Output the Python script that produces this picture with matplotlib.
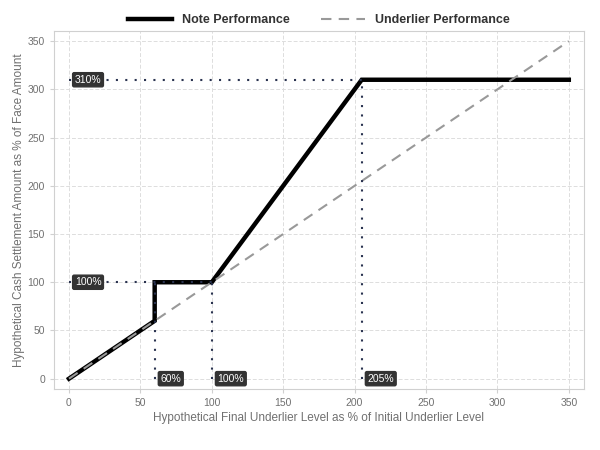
import matplotlib.pyplot as plt

plt.rcParams["font.family"] = ["Liberation Sans", "DejaVu Sans"]

underlier_x = [0, 350]
underlier_y = [0, 350]
note_x = [0, 60, 60, 100, 205, 350]
note_y = [0, 60, 100, 100, 310, 310]

# reference guides: (x, y) points marked with labels
h_guides = [(205, 310, "310%"), (100, 100, "100%")]
v_guides = [(60, 100, "60%"), (100, 100, "100%"), (205, 310, "205%")]

ticks = [0, 50, 100, 150, 200, 250, 300, 350]

fig = plt.figure(figsize=(6, 4.5), dpi=100)
ax = fig.add_axes([0.09, 0.136, 0.883, 0.795])

guide_col = "#2a3350"
box = dict(boxstyle="round,pad=0.2,rounding_size=0.15", fc="#333333", ec="#333333")
for x, y, lab in h_guides:
    ax.plot([0, x], [y, y], color=guide_col, linestyle=(0, (1, 3.5)), linewidth=1.5, zorder=5)
    ax.text(4, y, lab, color="white", fontsize=7.5, ha="left", va="center", zorder=6, bbox=box)
for x, y, lab in v_guides:
    ax.plot([x, x], [0, y], color=guide_col, linestyle=(0, (1, 3.5)), linewidth=1.5, zorder=5)
    ax.text(x + 4, 0, lab, color="white", fontsize=7.5, ha="left", va="center", zorder=6, bbox=box)

ax.plot(note_x, note_y, color="black", linewidth=3.2, solid_joinstyle="miter",
        label="Note Performance", zorder=3)
ax.plot(underlier_x, underlier_y, color="#999999", linewidth=1.5, linestyle=(0, (5, 3.5)),
        label="Underlier Performance", zorder=4)

ax.set_xlim(-10.5, 360.5)
ax.set_ylim(-10.5, 360.5)
ax.set_xticks(ticks)
ax.set_yticks(ticks)
ax.grid(True, color="#dddddd", linestyle=(0, (4, 2)), linewidth=0.7)
ax.set_axisbelow(True)
for s in ax.spines.values():
    s.set_color("#d0d0d0")
    s.set_linewidth(0.8)
ax.tick_params(colors="#d0d0d0", labelcolor="#707070", labelsize=7.5, length=3)
ax.set_xlabel("Hypothetical Final Underlier Level as % of Initial Underlier Level",
              fontsize=8.5, color="#707070", labelpad=3)
ax.set_ylabel("Hypothetical Cash Settlement Amount as % of Face Amount",
              fontsize=8.5, color="#707070", labelpad=2)

leg = ax.legend(loc="lower center", bbox_to_anchor=(0.5, 1.0), ncol=2, frameon=False,
                handlelength=3.5, columnspacing=2.5, borderaxespad=0.0,
                prop={"weight": "bold", "size": 9})
for t in leg.get_texts():
    t.set_color("#333333")

plt.savefig("out.png")
plt.close()
